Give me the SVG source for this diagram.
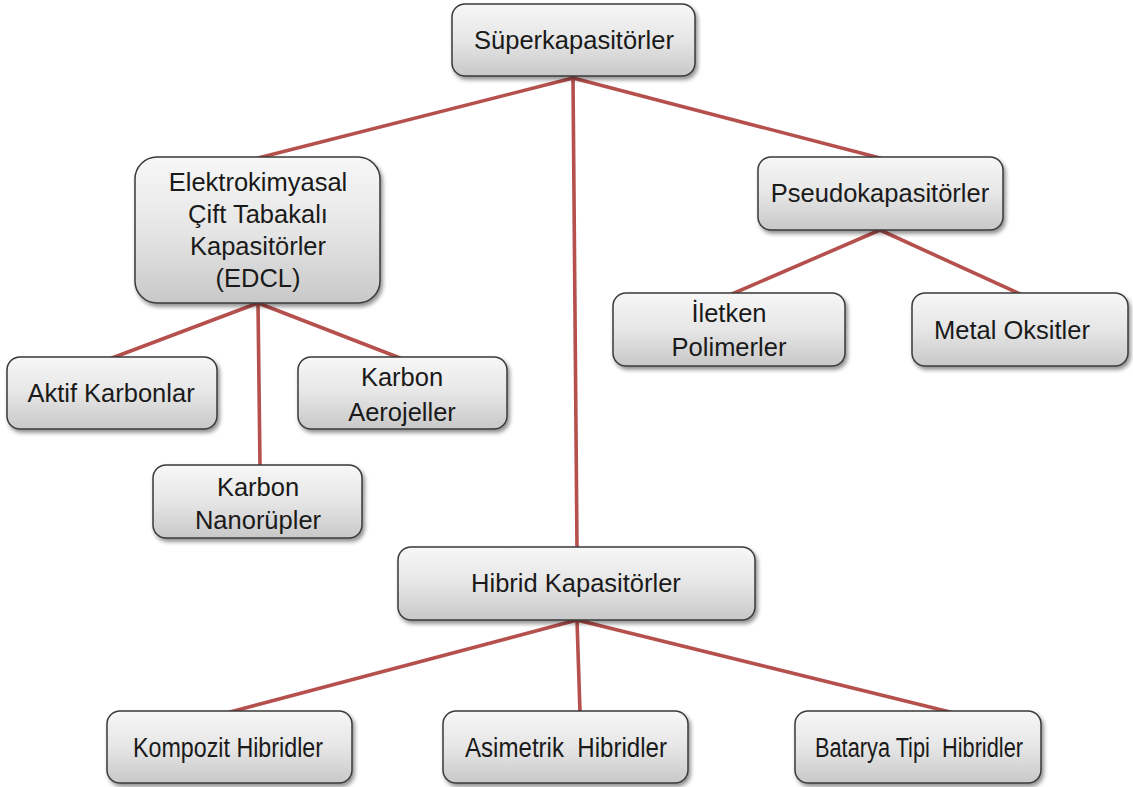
<svg xmlns="http://www.w3.org/2000/svg" width="1133" height="787" viewBox="0 0 1133 787">
<defs>
<linearGradient id="g" x1="0" y1="0" x2="0" y2="1">
<stop offset="0" stop-color="#f7f7f7"/>
<stop offset="0.5" stop-color="#e6e6e6"/>
<stop offset="1" stop-color="#c8c8c8"/>
</linearGradient>
<filter id="sh" x="-10%" y="-10%" width="125%" height="130%">
<feGaussianBlur in="SourceAlpha" stdDeviation="2"/>
<feOffset dx="2" dy="3" result="o"/>
<feComponentTransfer><feFuncA type="linear" slope="0.45"/></feComponentTransfer>
<feMerge><feMergeNode/><feMergeNode in="SourceGraphic"/></feMerge>
</filter>
</defs>
<style>
.box{fill:url(#g);stroke:#3a3a3a;stroke-width:1.5;filter:url(#sh)}
.t{font-family:"Liberation Sans",Arial,sans-serif;font-size:25.5px;fill:#1a1a1a;text-anchor:middle}
.b{font-size:27px}
.c{stroke:#b5504d;stroke-width:3.6;fill:none;stroke-linecap:round}
</style>
<rect width="1133" height="787" fill="#ffffff"/>
<g id="connectors">
<line class="c" x1="573" y1="78" x2="258" y2="158"/>
<line class="c" x1="573" y1="78" x2="880" y2="158"/>
<line class="c" x1="573" y1="78" x2="577" y2="548"/>
<line class="c" x1="258" y1="303" x2="112" y2="358"/>
<line class="c" x1="258" y1="303" x2="260" y2="466"/>
<line class="c" x1="258" y1="303" x2="400" y2="358"/>
<line class="c" x1="880" y1="230" x2="732" y2="294"/>
<line class="c" x1="880" y1="230" x2="1020" y2="294"/>
<line class="c" x1="577" y1="620" x2="230" y2="712"/>
<line class="c" x1="577" y1="620" x2="580" y2="712"/>
<line class="c" x1="577" y1="620" x2="950" y2="712"/>
</g>
<g id="n-super">
<rect class="box" x="452" y="4" width="243" height="72" rx="13"/>
<text class="t" x="574" y="49">Süperkapasitörler</text>
</g>
<g id="n-edcl">
<rect class="box" x="135" y="157" width="245" height="146" rx="22"/>
<text class="t" x="258" y="191">Elektrokimyasal</text>
<text class="t" x="258" y="223">Çift Tabakalı</text>
<text class="t" x="258" y="255">Kapasitörler</text>
<text class="t" x="258" y="287">(EDCL)</text>
</g>
<g id="n-pseudo">
<rect class="box" x="758" y="157" width="245" height="73" rx="13"/>
<text class="t" x="880" y="202">Pseudokapasitörler</text>
</g>
<g id="n-aktif">
<rect class="box" x="7" y="357" width="210" height="72" rx="13"/>
<text class="t" x="111" y="402">Aktif Karbonlar</text>
</g>
<g id="n-aerojel">
<rect class="box" x="298" y="357" width="209" height="72" rx="13"/>
<text class="t" x="402" y="386">Karbon</text>
<text class="t" x="402" y="421">Aerojeller</text>
</g>
<g id="n-nanorup">
<rect class="box" x="153" y="465" width="209" height="73" rx="13"/>
<text class="t" x="258" y="496">Karbon</text>
<text class="t" x="258" y="529">Nanorüpler</text>
</g>
<g id="n-iletken">
<rect class="box" x="613" y="293" width="232" height="73" rx="13"/>
<text class="t" x="729" y="322">İletken</text>
<text class="t" x="729" y="356">Polimerler</text>
</g>
<g id="n-metal">
<rect class="box" x="912" y="293" width="216" height="73" rx="13"/>
<text class="t" x="1012" y="339">Metal Oksitler</text>
</g>
<g id="n-hibrid">
<rect class="box" x="398" y="547" width="357" height="73" rx="13"/>
<text class="t" x="576" y="592">Hibrid Kapasitörler</text>
</g>
<g id="n-kompozit">
<rect class="box" x="107" y="711" width="245" height="72" rx="13"/>
<text class="t b" x="228" y="757" textLength="190" lengthAdjust="spacingAndGlyphs">Kompozit Hibridler</text>
</g>
<g id="n-asimetrik">
<rect class="box" x="443" y="711" width="245" height="72" rx="13"/>
<text class="t b" x="566" y="757" xml:space="preserve" textLength="202" lengthAdjust="spacingAndGlyphs">Asimetrik  Hibridler</text>
</g>
<g id="n-batarya">
<rect class="box" x="795" y="711" width="246" height="72" rx="13"/>
<text class="t b" x="919" y="757" xml:space="preserve" textLength="208" lengthAdjust="spacingAndGlyphs">Batarya Tipi  Hibridler</text>
</g>
</svg>
